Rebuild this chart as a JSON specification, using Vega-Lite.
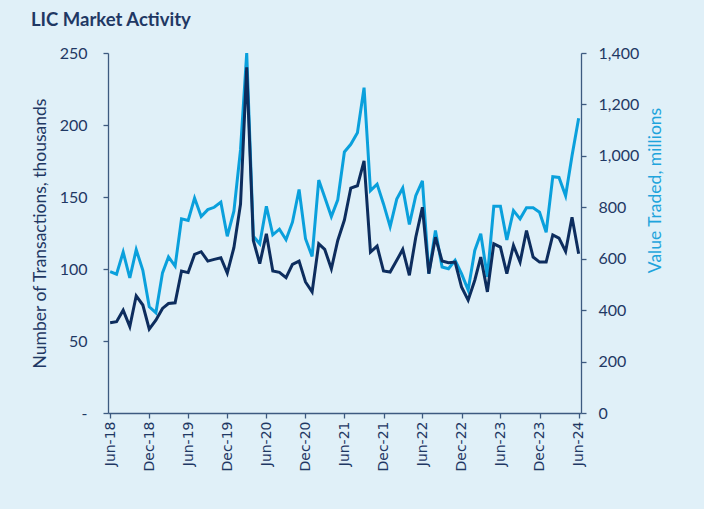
{
  "$schema": "https://vega.github.io/schema/vega-lite/v6.json",
  "width": 473,
  "height": 360,
  "autosize": {"type": "none"},
  "padding": {"left": 108, "top": 53, "right": 123, "bottom": 96},
  "background": "#e0f0f8",
  "title": {
    "text": "LIC Market Activity",
    "anchor": "start",
    "frame": "group",
    "dx": -77,
    "offset": 16,
    "font": "Lato",
    "fontSize": 18.5,
    "fontWeight": "bold",
    "color": "#1f3864"
  },
  "data": {
    "values": [
      {"date": "2018-06-01T00:00", "txn": 62.7, "val": 550},
      {"date": "2018-07-01T00:00", "txn": 63.4, "val": 540},
      {"date": "2018-08-01T00:00", "txn": 71.4, "val": 626},
      {"date": "2018-09-01T00:00", "txn": 60.0, "val": 525},
      {"date": "2018-10-01T00:00", "txn": 81.4, "val": 635},
      {"date": "2018-11-01T00:00", "txn": 75.0, "val": 555},
      {"date": "2018-12-01T00:00", "txn": 58.3, "val": 413},
      {"date": "2019-01-01T00:00", "txn": 64.5, "val": 390},
      {"date": "2019-02-01T00:00", "txn": 72.6, "val": 545},
      {"date": "2019-03-01T00:00", "txn": 76.0, "val": 607},
      {"date": "2019-04-01T00:00", "txn": 76.5, "val": 571},
      {"date": "2019-05-01T00:00", "txn": 98.6, "val": 755},
      {"date": "2019-06-01T00:00", "txn": 97.5, "val": 749},
      {"date": "2019-07-01T00:00", "txn": 110.1, "val": 836},
      {"date": "2019-08-01T00:00", "txn": 112.0, "val": 764},
      {"date": "2019-09-01T00:00", "txn": 105.5, "val": 791},
      {"date": "2019-10-01T00:00", "txn": 106.7, "val": 800},
      {"date": "2019-11-01T00:00", "txn": 107.8, "val": 820},
      {"date": "2019-12-01T00:00", "txn": 97.2, "val": 687},
      {"date": "2020-01-01T00:00", "txn": 114.8, "val": 785},
      {"date": "2020-02-01T00:00", "txn": 145.0, "val": 1023},
      {"date": "2020-03-01T00:00", "txn": 240.0, "val": 1400},
      {"date": "2020-04-01T00:00", "txn": 119.8, "val": 687},
      {"date": "2020-05-01T00:00", "txn": 103.7, "val": 658},
      {"date": "2020-06-01T00:00", "txn": 124.4, "val": 804},
      {"date": "2020-07-01T00:00", "txn": 98.6, "val": 693},
      {"date": "2020-08-01T00:00", "txn": 97.7, "val": 715},
      {"date": "2020-09-01T00:00", "txn": 94.0, "val": 674},
      {"date": "2020-10-01T00:00", "txn": 103.2, "val": 742},
      {"date": "2020-11-01T00:00", "txn": 105.5, "val": 869},
      {"date": "2020-12-01T00:00", "txn": 91.0, "val": 678},
      {"date": "2021-01-01T00:00", "txn": 84.1, "val": 609},
      {"date": "2021-02-01T00:00", "txn": 117.5, "val": 906},
      {"date": "2021-03-01T00:00", "txn": 113.6, "val": 839},
      {"date": "2021-04-01T00:00", "txn": 100.2, "val": 764},
      {"date": "2021-05-01T00:00", "txn": 119.8, "val": 829},
      {"date": "2021-06-01T00:00", "txn": 134.0, "val": 1015},
      {"date": "2021-07-01T00:00", "txn": 156.2, "val": 1045},
      {"date": "2021-08-01T00:00", "txn": 157.8, "val": 1090},
      {"date": "2021-09-01T00:00", "txn": 175.1, "val": 1265},
      {"date": "2021-10-01T00:00", "txn": 111.8, "val": 865},
      {"date": "2021-11-01T00:00", "txn": 115.9, "val": 890},
      {"date": "2021-12-01T00:00", "txn": 98.6, "val": 813},
      {"date": "2022-01-01T00:00", "txn": 97.9, "val": 725},
      {"date": "2022-02-01T00:00", "txn": 106.0, "val": 832},
      {"date": "2022-03-01T00:00", "txn": 113.6, "val": 875},
      {"date": "2022-04-01T00:00", "txn": 95.6, "val": 733},
      {"date": "2022-05-01T00:00", "txn": 122.1, "val": 845},
      {"date": "2022-06-01T00:00", "txn": 142.9, "val": 903},
      {"date": "2022-07-01T00:00", "txn": 96.8, "val": 542},
      {"date": "2022-08-01T00:00", "txn": 122.1, "val": 710},
      {"date": "2022-09-01T00:00", "txn": 105.5, "val": 568},
      {"date": "2022-10-01T00:00", "txn": 104.4, "val": 561},
      {"date": "2022-11-01T00:00", "txn": 104.8, "val": 594},
      {"date": "2022-12-01T00:00", "txn": 87.6, "val": 542},
      {"date": "2023-01-01T00:00", "txn": 78.4, "val": 478},
      {"date": "2023-02-01T00:00", "txn": 92.2, "val": 632},
      {"date": "2023-03-01T00:00", "txn": 108.3, "val": 697},
      {"date": "2023-04-01T00:00", "txn": 84.1, "val": 529},
      {"date": "2023-05-01T00:00", "txn": 117.5, "val": 804},
      {"date": "2023-06-01T00:00", "txn": 115.2, "val": 804},
      {"date": "2023-07-01T00:00", "txn": 96.8, "val": 673},
      {"date": "2023-08-01T00:00", "txn": 116.4, "val": 787},
      {"date": "2023-09-01T00:00", "txn": 104.8, "val": 755},
      {"date": "2023-10-01T00:00", "txn": 126.7, "val": 798},
      {"date": "2023-11-01T00:00", "txn": 108.3, "val": 798},
      {"date": "2023-12-01T00:00", "txn": 104.8, "val": 781},
      {"date": "2024-01-01T00:00", "txn": 104.8, "val": 703},
      {"date": "2024-02-01T00:00", "txn": 123.7, "val": 919},
      {"date": "2024-03-01T00:00", "txn": 121.4, "val": 916},
      {"date": "2024-04-01T00:00", "txn": 112.2, "val": 845},
      {"date": "2024-05-01T00:00", "txn": 136.0, "val": 1000},
      {"date": "2024-06-01T00:00", "txn": 110.6, "val": 1146}
    ]
  },
  "encoding": {
    "x": {
      "field": "date",
      "type": "temporal",
      "scale": {
        "domain": [
          {"year": 2018, "month": 5, "date": 22},
          {"year": 2024, "month": 6, "date": 12}
        ],
        "nice": false
      },
      "axis": {
        "title": null,
        "format": "%b-%y",
        "values": [
          {"year": 2018, "month": 6, "date": 1},
          {"year": 2018, "month": 12, "date": 1},
          {"year": 2019, "month": 6, "date": 1},
          {"year": 2019, "month": 12, "date": 1},
          {"year": 2020, "month": 6, "date": 1},
          {"year": 2020, "month": 12, "date": 1},
          {"year": 2021, "month": 6, "date": 1},
          {"year": 2021, "month": 12, "date": 1},
          {"year": 2022, "month": 6, "date": 1},
          {"year": 2022, "month": 12, "date": 1},
          {"year": 2023, "month": 6, "date": 1},
          {"year": 2023, "month": 12, "date": 1},
          {"year": 2024, "month": 6, "date": 1}
        ],
        "labelAngle": 270,
        "labelFont": "DejaVu Sans",
        "labelFontSize": 14,
        "labelColor": "#1f3864",
        "labelPadding": 3,
        "tickSize": 5,
        "grid": false,
        "labelOverlap": false,
        "labelFlush": false
      }
    }
  },
  "layer": [
    {
      "mark": {"type": "line", "color": "#0aa0dc", "strokeWidth": 3, "clip": true},
      "encoding": {
        "y": {
          "field": "val",
          "type": "quantitative",
          "scale": {"domain": [0, 1400], "nice": false},
          "axis": {
            "orient": "right",
            "title": "Value Traded, millions",
            "titleColor": "#1ea4dc",
            "titleFont": "Lato",
            "titleFontSize": 17.5,
            "titleFontWeight": "normal",
            "titleAngle": 270,
            "titleBaseline": "top",
            "titlePadding": 8,
            "titleY": 137,
            "values": [0, 200, 400, 600, 800, 1000, 1200, 1400],
            "format": ",.0f",
            "labelFont": "Lato",
            "labelFontSize": 16,
            "labelColor": "#1f3864",
            "labelPadding": 12,
            "tickSize": 5,
            "grid": false
          }
        }
      }
    },
    {
      "mark": {"type": "line", "color": "#0d2d5e", "strokeWidth": 3, "clip": true},
      "encoding": {
        "y": {
          "field": "txn",
          "type": "quantitative",
          "scale": {"domain": [0, 250], "nice": false},
          "axis": {
            "orient": "left",
            "title": "Number of Transactions, thousands",
            "titleColor": "#1f3864",
            "titleFont": "Lato",
            "titleFontSize": 17.5,
            "titleFontWeight": "normal",
            "titlePadding": 10,
            "values": [0, 50, 100, 150, 200, 250],
            "labelExpr": "datum.value == 0 ? '-' : datum.label",
            "labelFont": "Lato",
            "labelFontSize": 16,
            "labelColor": "#1f3864",
            "labelPadding": 16,
            "tickSize": 5,
            "grid": false
          }
        }
      }
    }
  ],
  "resolve": {"scale": {"y": "independent"}},
  "config": {
    "view": {"stroke": null},
    "axis": {"domainColor": "#3d5a80", "tickColor": "#3d5a80", "domainWidth": 1.3, "tickWidth": 1.3}
  }
}
